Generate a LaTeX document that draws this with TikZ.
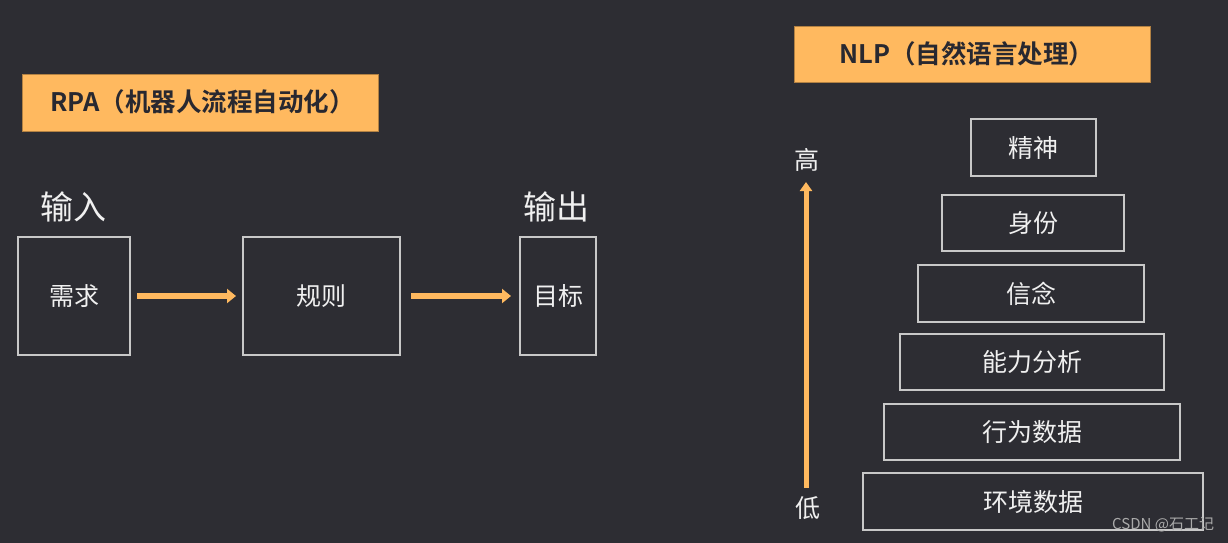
\documentclass[tikz,border=0pt]{standalone}
\usepackage{fontspec}
\setmainfont{Noto Sans CJK SC}
\newfontfamily\cjkbold{Noto Sans CJK SC Bold}
\usetikzlibrary{arrows.meta}
\definecolor{bg}{RGB}{45,45,51}
\definecolor{orng}{RGB}{255,185,95}
\definecolor{boxline}{RGB}{200,200,200}
\definecolor{txt}{RGB}{240,240,240}
\definecolor{hdr}{RGB}{40,40,48}
\definecolor{wm}{RGB}{170,170,170}
\tikzset{
  hdrbox/.style={fill=orng, draw=orng!70!black, line width=0.8pt},
  frame/.style={draw=boxline, line width=1.4pt},
  lbl/.style={text=txt, font=\fontsize{25}{25}\selectfont, inner sep=0pt},
  biglbl/.style={text=txt, font=\fontsize{33}{33}\selectfont, inner sep=0pt},
  flow/.style={orng, line width=6pt, -{Triangle[length=9pt,width=14pt]}},
  vflow/.style={orng, line width=5pt, -{Triangle[length=9pt,width=12pt]}},
}
\begin{document}
\begin{tikzpicture}[x=1pt,y=-1pt]
\fill[bg] (0,0) rectangle (1228,543);
\useasboundingbox (0,0) rectangle (1228,543);
% headers
\draw[hdrbox] (22,74) rectangle (378,131);
\node[anchor=west, text=hdr, inner sep=0pt, font=\cjkbold\fontsize{25.5}{25.5}\selectfont] (rpa) at (50,102) {RPA（机器人流程自动化）};
\draw[hdrbox] (794,26) rectangle (1150,82);
\node[text=hdr, inner sep=0pt, font=\cjkbold\fontsize{25.5}{25.5}\selectfont] (nlp) at (967,54) {NLP（自然语言处理）};
% left flow
\node[biglbl] (in) at (73,207) {输入};
\node[biglbl] (out) at (556,207) {输出};
\node[frame, minimum width=112pt, minimum height=118pt, inner sep=0pt] (need) at (74,296) {};
\node[lbl] at (need.center) {需求};
\node[frame, minimum width=157pt, minimum height=118pt, inner sep=0pt] (rule) at (321.5,296) {};
\node[lbl] at (rule.center) {规则};
\node[frame, minimum width=76pt, minimum height=118pt, inner sep=0pt] (goal) at (558,296) {};
\node[lbl] at (goal.center) {目标};
\coordinate (a1s) at (137,296);
\coordinate (a1e) at (236,296);
\coordinate (a2s) at (411,296);
\coordinate (a2e) at (511,296);
\draw[flow] (a1s) -- (a1e);
\draw[flow] (a2s) -- (a2e);
% vertical scale
\node[lbl] (hi) at (807,160) {高};
\node[lbl] (lo) at (808,508) {低};
\draw[vflow] (806,488) -- (806,182);
% pyramid
\node[frame, minimum width=125pt, minimum height=57pt, inner sep=0pt] (p1) at (1033.5,147.5) {};
\node[lbl] at (p1.center) {精神};
\node[frame, minimum width=182pt, minimum height=56pt, inner sep=0pt] (p2) at (1033,223) {};
\node[lbl] at (p2.center) {身份};
\node[frame, minimum width=226pt, minimum height=57pt, inner sep=0pt] (p3) at (1031,293.5) {};
\node[lbl] at (p3.center) {信念};
\node[frame, minimum width=264pt, minimum height=56pt, inner sep=0pt] (p4) at (1032,362) {};
\node[lbl] at (p4.center) {能力分析};
\node[frame, minimum width=296pt, minimum height=56pt, inner sep=0pt] (p5) at (1032,432) {};
\node[lbl] at (p5.center) {行为数据};
\node[frame, minimum width=340pt, minimum height=57pt, inner sep=0pt] (p6) at (1033,501.5) {};
\node[lbl] at (p6.center) {环境数据};
% watermark
\node[anchor=west, text=wm, inner sep=0pt, font=\fontsize{15}{15}\selectfont] (wmk) at (1112,525) {CSDN @石工记};
\end{tikzpicture}
\end{document}
